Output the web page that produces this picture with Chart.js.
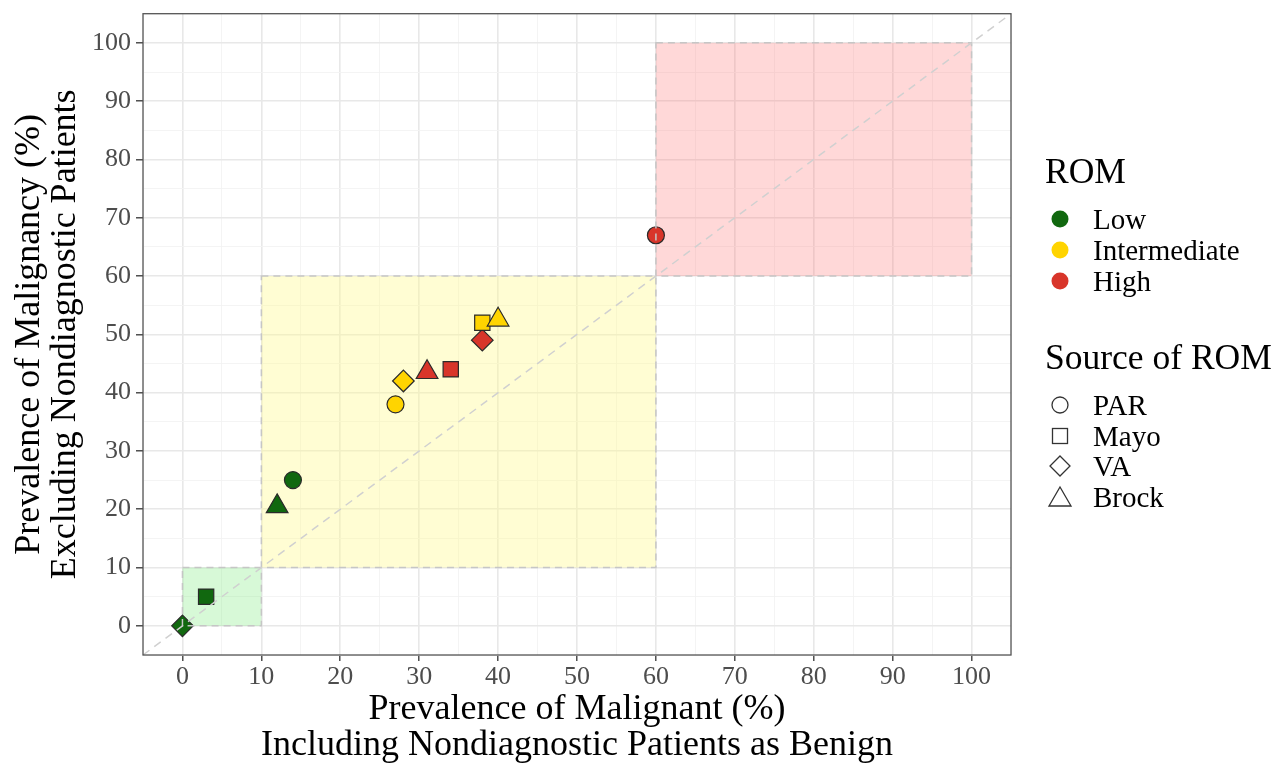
<!DOCTYPE html>
<html>
<head>
<meta charset="utf-8">
<script src="https://cdn.jsdelivr.net/npm/chart.js@4.4.1/dist/chart.umd.min.js"></script>
<style>
body { margin: 0; background: #fff; font-family: "Liberation Serif", serif; }
#wrap { position: relative; width: 1284px; height: 766px; }
#chart { position: absolute; left: 0; top: 0; }
.lg-title { position: absolute; left: 1045px; font-size: 35.5px; line-height: 36px; color: #000; white-space: nowrap; }
.lg-item { position: absolute; left: 1093px; font-size: 29px; line-height: 30px; color: #000; white-space: nowrap; }
.lg-sym { position: absolute; }
</style>
</head>
<body>
<div id="wrap">
  <canvas id="chart" width="1284" height="766"></canvas>
  <div id="legend"></div>
</div>
<script>
// ===================== DATA ===================== //
const sources = ["PAR", "Mayo", "VA", "Brock"];
const romLevels = ["Low", "Intermediate", "High"];
const romColors = ["#11680f", "#ffd400", "#d8352a"];

// values per ROM level, in order of sources
const lowX = [14, 3, 0, 12];
const lowY = [25, 5, 0, 20.5];
const intX = [27, 38, 28, 40];
const intY = [38, 52, 42, 52.5];
const highX = [60, 34, 38, 31];
const highY = [67, 44, 49, 43.5];

// shaded zones (x range, y range)
const zoneX = [[0, 10], [10, 60], [60, 100]];
const zoneY = [[0, 10], [10, 60], [60, 100]];
const zoneFill = ["rgba(110,235,110,0.28)", "rgba(255,250,140,0.38)", "rgba(255,110,110,0.27)"];

const diagX = [-5, 105];
const axisMin = -5;
const axisMax = 105;

const shapeStyles = ["circle", "rect", "rectRot", "triangle"];
const shapeSizes = [8.5, 10.8, 10.8, 12.5];

// ===================== HELPERS ===================== //
function toPoints(xs, ys) {
    return xs.map((x, i) => ({ x: x, y: ys[i] }));
}

function makeSet(label, xs, ys, color) {
    return {
        label: label,
        data: toPoints(xs, ys),
        backgroundColor: color,
        borderColor: "#2b2b2b",
        borderWidth: 1.2,
        pointStyle: shapeStyles,
        pointRadius: shapeSizes,
        pointHoverRadius: shapeSizes
    };
}

const tickFont = { family: "'Liberation Serif', serif", size: 26 };
const titleFont = { family: "'Liberation Serif', serif", size: 36, lineHeight: 1.0 };

function gridColor(ctx) {
    return ctx.tick && ctx.tick.value % 10 === 0 ? "#e8e8e8" : "#f3f3f3";
}
function gridWidth(ctx) {
    return ctx.tick && ctx.tick.value % 10 === 0 ? 1.6 : 0.9;
}
function tickMarkColor(ctx) {
    return ctx.tick && ctx.tick.value % 10 === 0 && ctx.tick.value >= 0 && ctx.tick.value <= 100 ? "#333" : "rgba(0,0,0,0)";
}
function tickLabel(v) {
    return v % 10 === 0 && v >= 0 && v <= 100 ? v : "";
}

// ===================== ZONES + DIAGONAL PLUGIN ===================== //
const zonePlugin = {
    id: "zones",
    beforeDatasetsDraw(chart) {
        const { ctx, scales: { x, y } } = chart;
        ctx.save();
        zoneX.forEach((zx, i) => {
            const x0 = x.getPixelForValue(zx[0]);
            const x1 = x.getPixelForValue(zx[1]);
            const y0 = y.getPixelForValue(zoneY[i][1]);
            const y1 = y.getPixelForValue(zoneY[i][0]);
            ctx.fillStyle = zoneFill[i];
            ctx.fillRect(x0, y0, x1 - x0, y1 - y0);
        });
        ctx.restore();
    },
    afterDatasetsDraw(chart) {
        const { ctx, chartArea, scales: { x, y } } = chart;
        ctx.save();
        ctx.setLineDash([7, 5]);
        ctx.lineWidth = 1.5;
        ctx.strokeStyle = "#c6c6c6";
        zoneX.forEach((zx, i) => {
            const x0 = x.getPixelForValue(zx[0]);
            const x1 = x.getPixelForValue(zx[1]);
            const y0 = y.getPixelForValue(zoneY[i][1]);
            const y1 = y.getPixelForValue(zoneY[i][0]);
            ctx.strokeRect(x0, y0, x1 - x0, y1 - y0);
        });

        // dashed identity line
        ctx.strokeStyle = "#d0d0d0";
        ctx.setLineDash([8, 6]);
        ctx.beginPath();
        ctx.moveTo(x.getPixelForValue(diagX[0]), y.getPixelForValue(diagX[0]));
        ctx.lineTo(x.getPixelForValue(diagX[1]), y.getPixelForValue(diagX[1]));
        ctx.stroke();

        // panel border
        ctx.setLineDash([]);
        ctx.strokeStyle = "#555";
        ctx.lineWidth = 1.3;
        ctx.strokeRect(chartArea.left, chartArea.top, chartArea.right - chartArea.left, chartArea.bottom - chartArea.top);
        ctx.restore();
    }
};

// ===================== CHART ===================== //
const ctx = document.getElementById("chart").getContext("2d");

const chart = new Chart(ctx, {
    type: "scatter",
    data: {
        datasets: [
            makeSet(romLevels[0], lowX, lowY, romColors[0]),
            makeSet(romLevels[1], intX, intY, romColors[1]),
            makeSet(romLevels[2], highX, highY, romColors[2])
        ]
    },
    options: {
        responsive: false,
        animation: false,
        layout: { padding: { left: 0, right: 273, top: 12, bottom: 0 } },
        plugins: {
            legend: { display: false },
            tooltip: { enabled: false }
        },
        scales: {
            x: {
                type: "linear",
                min: axisMin,
                max: axisMax,
                afterFit(s) { s.height = 111; s.paddingLeft = 0; s.paddingRight = 0; },
                border: { display: false },
                grid: { color: gridColor, lineWidth: gridWidth, tickColor: tickMarkColor, tickLength: 6, tickWidth: 1.3 },
                ticks: { stepSize: 5, autoSkip: false, maxRotation: 0, padding: 1, color: "#4d4d4d", font: tickFont, callback: tickLabel },
                title: {
                    display: true,
                    text: ["Prevalence of Malignant (%)", "Including Nondiagnostic Patients as Benign"],
                    color: "#000",
                    font: titleFont,
                    padding: { top: 0, bottom: 2 }
                }
            },
            y: {
                type: "linear",
                min: axisMin,
                max: axisMax,
                afterFit(s) { s.width = 143; s.paddingTop = 0; s.paddingBottom = 0; },
                border: { display: false },
                grid: { color: gridColor, lineWidth: gridWidth, tickColor: tickMarkColor, tickLength: 7, tickWidth: 1.3 },
                ticks: { stepSize: 5, autoSkip: false, padding: 5, color: "#4d4d4d", font: tickFont, callback: tickLabel },
                title: {
                    display: true,
                    text: ["Prevalence of Malignancy (%)", "Excluding Nondiagnostic Patients"],
                    color: "#000",
                    font: titleFont,
                    padding: { top: 12, bottom: 0 }
                }
            }
        }
    },
    plugins: [zonePlugin]
});

// ===================== LEGEND ===================== //
const legendBox = document.getElementById("legend");
const romRowY = [219, 250, 281];
const srcRowY = [405, 436, 466, 497];
const symX = 1060;

function addText(cls, text, centerY) {
    const el = document.createElement("div");
    el.className = cls;
    el.textContent = text;
    el.style.top = (centerY - (cls === "lg-title" ? 18 : 15)) + "px";
    legendBox.appendChild(el);
}

function addSvg(inner, centerY) {
    const s = document.createElementNS("http://www.w3.org/2000/svg", "svg");
    s.setAttribute("width", "28");
    s.setAttribute("height", "28");
    s.setAttribute("viewBox", "-14 -14 28 28");
    s.setAttribute("class", "lg-sym");
    s.style.left = (symX - 14) + "px";
    s.style.top = (centerY - 14) + "px";
    s.innerHTML = inner;
    legendBox.appendChild(s);
}

addText("lg-title", "ROM", 171);
romLevels.forEach((name, i) => {
    addSvg('<circle r="8.5" fill="' + romColors[i] + '"/>', romRowY[i]);
    addText("lg-item", name, romRowY[i]);
});

addText("lg-title", "Source of ROM", 357);
const srcShapes = [
    '<circle r="8" fill="none" stroke="#333" stroke-width="1.3"/>',
    '<rect x="-7.5" y="-7.5" width="15" height="15" fill="none" stroke="#333" stroke-width="1.3"/>',
    '<polygon points="0,-10 10,0 0,10 -10,0" fill="none" stroke="#333" stroke-width="1.3"/>',
    '<polygon points="0,-10 11,9 -11,9" fill="none" stroke="#333" stroke-width="1.3"/>'
];
sources.forEach((name, i) => {
    addSvg(srcShapes[i], srcRowY[i]);
    addText("lg-item", name, srcRowY[i]);
});
</script>
</body>
</html>
